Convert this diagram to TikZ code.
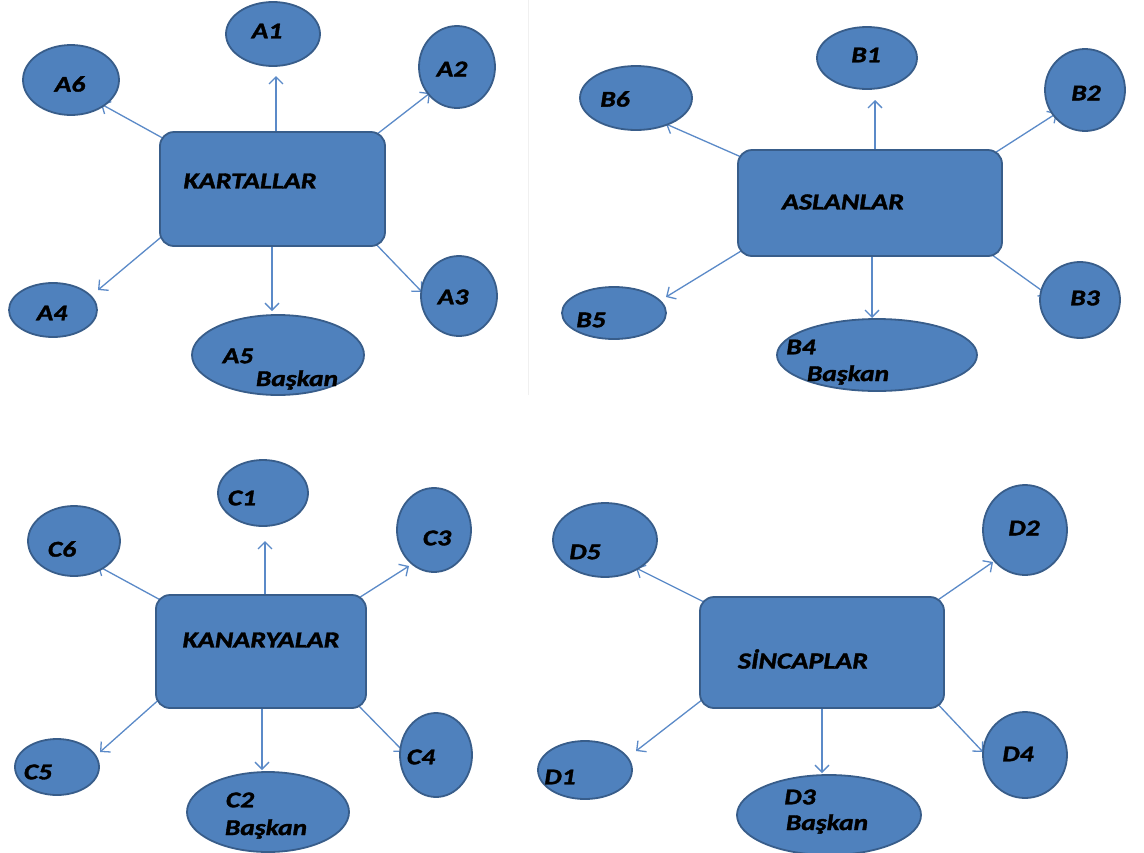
\documentclass[tikz,border=0pt]{standalone}
\usepackage{fontspec}
\setmainfont{Carlito}
\newfontfamily\heavy{Carlito}[BoldItalicFeatures={FakeBold=1.6,FakeStretch=1.22}]
\usetikzlibrary{shapes.geometric,arrows.meta}
\definecolor{fillb}{HTML}{4F81BD}
\definecolor{edgeb}{HTML}{385D8A}
\definecolor{arrb}{HTML}{5B8AC8}
\tikzset{
 grp/.style={draw=edgeb, line width=1.8pt, fill=fillb, rounded corners=14pt, inner sep=0pt},
 ell/.style={ellipse, draw=edgeb, line width=1.8pt, fill=fillb, inner sep=0pt},
 lbl/.style={font=\heavy\fontsize{22.5}{22.5}\selectfont\bfseries\itshape, text=black, inner sep=0pt},
 big/.style={font=\heavy\fontsize{23}{23}\selectfont\bfseries\itshape, text=black, inner sep=0pt},
 arr/.style={draw=arrb, line width=1.3pt, -{Straight Barb[length=7pt,width=14pt]}},
}
\begin{document}
\begin{tikzpicture}[x=1pt,y=-1pt]
\useasboundingbox (0,0) rectangle (1144,852);
\fill[white] (0,0) rectangle (1144,852);
\draw[gray!12, line width=1pt] (528,0) -- (528,395);

% ---------- Panel A ----------
\coordinate (a1s) at (276,140); \coordinate (a1e) at (276,76);
\coordinate (a2s) at (372,138); \coordinate (a2e) at (430,93);
\coordinate (a6s) at (168,141); \coordinate (a6e) at (101,104);
\coordinate (a4s) at (166,233); \coordinate (a4e) at (98,290);
\coordinate (a3s) at (372,240); \coordinate (a3e) at (422,292);
\coordinate (a5s) at (272,225); \coordinate (a5e) at (272,311);
\foreach \s/\e in {a1s/a1e,a2s/a2e,a6s/a6e,a4s/a4e,a3s/a3e,a5s/a5e} \draw[arr] (\s) -- (\e);
\node[grp, minimum width=225pt, minimum height=114pt] (KA) at (272.5,189) {};
\node[big] (KAt) at (250,181) {KARTALLAR};
\node[ell, minimum width=94pt, minimum height=64pt] (A1) at (273,34) {};
\node[lbl] at (267,31) {A1};
\node[ell, minimum width=76pt, minimum height=82pt] (A2) at (457,67) {};
\node[lbl] at (452,69) {A2};
\node[ell, minimum width=96pt, minimum height=70pt] (A6) at (71,80) {};
\node[lbl] at (70,84) {A6};
\node[ell, minimum width=88pt, minimum height=54pt] (A4) at (53,310) {};
\node[lbl] at (52,313) {A4};
\node[ell, minimum width=76pt, minimum height=80pt] (A3) at (459,296) {};
\node[lbl] at (453,297) {A3};
\node[ell, minimum width=172pt, minimum height=80pt] (A5) at (278,355) {};
\node[lbl] at (238,356) {A5};
\node[lbl] at (297,380) {Başkan};

% ---------- Panel B ----------
\coordinate (b1s) at (875,158); \coordinate (b1e) at (875,100);
\coordinate (b2s) at (990,156); \coordinate (b2e) at (1057,113);
\coordinate (b6s) at (748,160); \coordinate (b6e) at (666,124);
\coordinate (b5s) at (746,248); \coordinate (b5e) at (666,297);
\coordinate (b3s) at (988,252); \coordinate (b3e) at (1048,295);
\coordinate (b4s) at (872,250); \coordinate (b4e) at (872,318);
\foreach \s/\e in {b1s/b1e,b2s/b2e,b6s/b6e,b5s/b5e,b3s/b3e,b4s/b4e} \draw[arr] (\s) -- (\e);
\node[grp, minimum width=264pt, minimum height=106pt] (AS) at (870,203) {};
\node[big] (ASt) at (843,202) {ASLANLAR};
\node[ell, minimum width=100pt, minimum height=62pt] (B1) at (867,58) {};
\node[lbl] at (866,55) {B1};
\node[ell, minimum width=80pt, minimum height=82pt] (B2) at (1085,90) {};
\node[lbl] at (1086,93) {B2};
\node[ell, minimum width=112pt, minimum height=64pt] (B6) at (636,98) {};
\node[lbl] at (615,99) {B6};
\node[ell, minimum width=104pt, minimum height=52pt] (B5) at (614,313) {};
\node[lbl] at (591,320) {B5};
\node[ell, minimum width=80pt, minimum height=76pt] (B3) at (1080,300) {};
\node[lbl] at (1085,298) {B3};
\node[ell, minimum width=200pt, minimum height=72pt] (B4) at (877,355) {};
\node[lbl] at (801,347) {B4};
\node[lbl] at (848,375) {Başkan};

% ---------- Panel C ----------
\coordinate (c1s) at (265,603); \coordinate (c1e) at (265,541);
\coordinate (c3s) at (354,601); \coordinate (c3e) at (409,566);
\coordinate (c6s) at (166,603); \coordinate (c6e) at (98,566);
\coordinate (c5s) at (163,696); \coordinate (c5e) at (100,752);
\coordinate (c4s) at (354,701); \coordinate (c4e) at (404,752);
\coordinate (c2s) at (262,700); \coordinate (c2e) at (262,770);
\foreach \s/\e in {c1s/c1e,c3s/c3e,c6s/c6e,c5s/c5e,c4s/c4e,c2s/c2e} \draw[arr] (\s) -- (\e);
\node[grp, minimum width=210pt, minimum height=113pt] (KN) at (261,651.5) {};
\node[big] (KNt) at (261,640) {KANARYALAR};
\node[ell, minimum width=90pt, minimum height=66pt] (C1) at (263,493) {};
\node[lbl] at (242,498) {C1};
\node[ell, minimum width=74pt, minimum height=84pt] (C3) at (434,530) {};
\node[lbl] at (437,538) {C3};
\node[ell, minimum width=92pt, minimum height=70pt] (C6) at (74,541) {};
\node[lbl] at (62,549) {C6};
\node[ell, minimum width=84pt, minimum height=56pt] (C5) at (57,767) {};
\node[lbl] at (38,772) {C5};
\node[ell, minimum width=72pt, minimum height=84pt] (C4) at (436,755) {};
\node[lbl] at (421,757) {C4};
\node[ell, minimum width=162pt, minimum height=80pt] (C2) at (268,812) {};
\node[lbl] at (240,800) {C2};
\node[lbl] at (266,829) {Başkan};

% ---------- Panel D ----------
\coordinate (d2s) at (932,604); \coordinate (d2e) at (993,562);
\coordinate (d5s) at (712,606); \coordinate (d5e) at (636,568);
\coordinate (d1s) at (707,696); \coordinate (d1e) at (636,751);
\coordinate (d4s) at (932,698); \coordinate (d4e) at (983,752);
\coordinate (d3s) at (822,700); \coordinate (d3e) at (822,773);
\foreach \s/\e in {d2s/d2e,d5s/d5e,d1s/d1e,d4s/d4e,d3s/d3e} \draw[arr] (\s) -- (\e);
\node[grp, minimum width=244pt, minimum height=111pt] (SI) at (822,652.5) {};
\node[big] (SIt) at (803,659) {SİNCAPLAR};
\node[ell, minimum width=84pt, minimum height=90pt] (D2) at (1025,530) {};
\node[lbl] at (1024,528) {D2};
\node[ell, minimum width=104pt, minimum height=74pt] (D5) at (605,540) {};
\node[lbl] at (585,552) {D5};
\node[ell, minimum width=94pt, minimum height=58pt] (D1) at (585,770) {};
\node[lbl] at (560,777) {D1};
\node[ell, minimum width=84pt, minimum height=86pt] (D4) at (1025,755) {};
\node[lbl] at (1018,754) {D4};
\node[ell, minimum width=184pt, minimum height=80pt] (D3) at (829,815) {};
\node[lbl] at (800,797) {D3};
\node[lbl] at (827,824) {Başkan};
\end{tikzpicture}
\end{document}
